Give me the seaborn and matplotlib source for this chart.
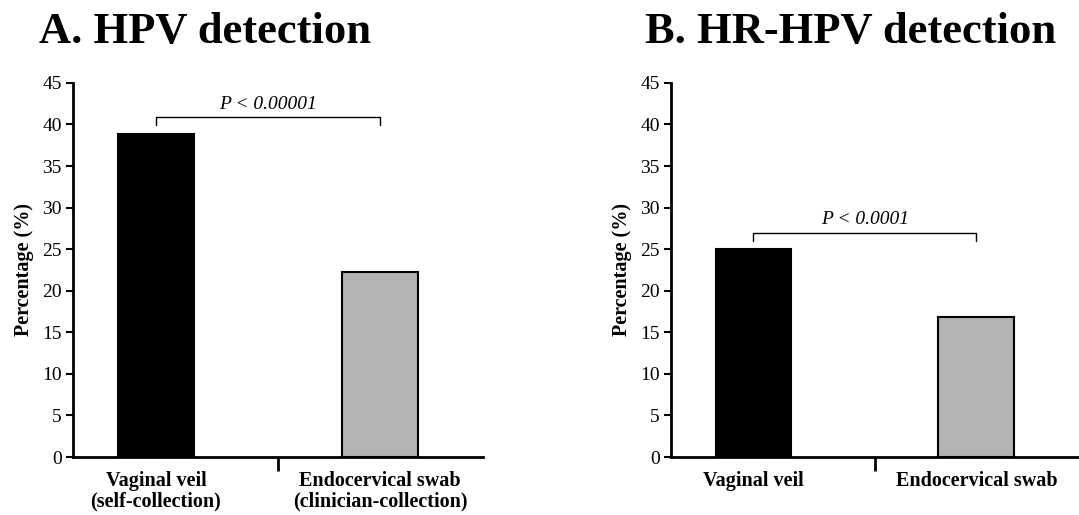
import matplotlib
matplotlib.use("Agg")
import matplotlib.pyplot as plt
import seaborn as sns
import pandas as pd

sns.set_theme(style="white")
plt.rcParams['font.family'] = ['Liberation Serif', 'DejaVu Serif']
plt.rcParams['text.color'] = 'black'
plt.rcParams['axes.labelcolor'] = 'black'
plt.rcParams['xtick.color'] = 'black'
plt.rcParams['ytick.color'] = 'black'

# Data
titles = ["A. HPV detection", "B. HR-HPV detection"]
cats_a = ["Vaginal veil\n(self-collection)", "Endocervical swab\n(clinician-collection)"]
cats_b = ["Vaginal veil", "Endocervical swab"]
vals_a = [38.9, 22.3]
vals_b = [25.0, 16.8]
pvals = ["P < 0.00001", "P < 0.0001"]
yticks = [0, 5, 10, 15, 20, 25, 30, 35, 40, 45]
colors = ["#000000", "#b3b3b3"]

fig = plt.figure(figsize=(10.79, 5.15), dpi=100)
ax_a = fig.add_axes([0.0677, 0.1126, 0.380, 0.7264])
ax_b = fig.add_axes([0.6219, 0.1126, 0.378, 0.7264])

for ax, cats, vals, p in [(ax_a, cats_a, vals_a, pvals[0]), (ax_b, cats_b, vals_b, pvals[1])]:
    df = pd.DataFrame({"cat": cats, "val": vals})
    sns.barplot(data=df, x="cat", y="val", hue="cat", palette=colors, width=0.34,
                edgecolor="black", linewidth=1.5, legend=False, ax=ax)
    ax.set_ylim(0, 45)
    ax.set_xlim(-0.37, 1.46)
    ax.set_yticks(yticks)
    ax.set_yticklabels([str(t) for t in yticks], fontsize=14)
    ax.set_xticks([0, 1])
    ax.set_xticklabels(cats, fontsize=14.5, fontweight="bold", linespacing=1.05)
    ax.tick_params(axis="x", which="major", length=0, pad=10, bottom=True)
    ax.set_xticks([0.545], minor=True)
    ax.tick_params(axis="x", which="minor", length=10, width=2, direction="out",
                   color="black", bottom=True)
    ax.tick_params(axis="y", length=5, width=1.5, direction="out", color="black", pad=3, left=True)
    ax.set_xlabel("")
    ax.set_ylabel("Percentage (%)", fontsize=14.5, fontweight="bold", labelpad=6)
    for s in ["top", "right"]:
        ax.spines[s].set_visible(False)
    for s in ["left", "bottom"]:
        ax.spines[s].set_linewidth(2)
        ax.spines[s].set_color("black")
    # significance bracket
    top = max(vals)
    yb = top + 2.0
    yl = top + 1.0
    ax.plot([0, 0, 1, 1], [yl, yb, yb, yl], color="black", lw=1.0, clip_on=False)
    ax.text(0.5, yb + 0.5, p, ha="center", va="bottom", fontsize=14, style="italic")

fig.text(0.19, 0.9165, titles[0], ha="center", va="baseline", fontsize=32, fontweight="bold")
fig.text(0.788, 0.9165, titles[1], ha="center", va="baseline", fontsize=32, fontweight="bold")

fig.savefig("out.png", dpi=100)
